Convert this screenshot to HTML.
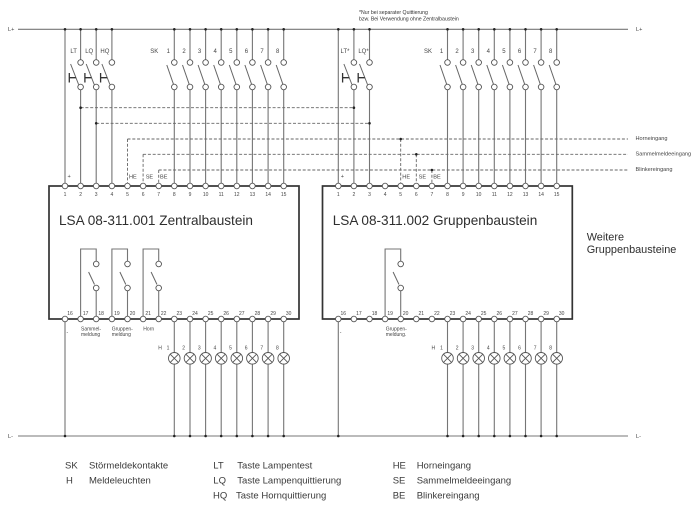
<!DOCTYPE html>
<html><head><meta charset="utf-8"><style>
html,body{margin:0;padding:0;background:#fff;}
svg{display:block;}
text{font-family:"Liberation Sans",Arial,sans-serif;fill:#333;}
.n{font-size:5px;text-anchor:middle;fill:#444;}
.l{font-size:6px;text-anchor:middle;fill:#444;}
.s{font-size:5.6px;fill:#444;}
.g{font-size:9.5px;fill:#3a3a3a;}
</style></head><body>
<svg width="700" height="511" viewBox="0 0 700 511" xmlns="http://www.w3.org/2000/svg">
<defs>
<g id="lamp"><circle cx="0" cy="0" r="5.8" fill="#fff" stroke="#555" stroke-width="0.9"/><path d="M-4.1 -4.1L4.1 4.1M-4.1 4.1L4.1 -4.1" stroke="#555" stroke-width="0.9"/></g>
<circle id="t" cx="0" cy="0" r="2.8" fill="#fff" stroke="#555" stroke-width="0.9"/>
</defs>

<!-- rails -->
<path d="M18 29.3H628M18 436H628" stroke="#777" stroke-width="1.1" fill="none"/>
<text x="8" y="31" class="s">L+</text>
<text x="636" y="31" class="s">L+</text>
<text x="8" y="438" class="s">L-</text>
<text x="636" y="438" class="s">L-</text>

<!-- solid wires -->
<path stroke="#757575" stroke-width="1.1" fill="none" d="
M65 29.3V183.2
M80.6 29.3V59.7M80.6 89.8V183.2
M96.2 29.3V59.7M96.2 89.8V183.2
M111.9 29.3V59.7M111.9 89.8V183.2
M174.3 29.3V59.7M174.3 89.8V183.2
M190 29.3V59.7M190 89.8V183.2
M205.6 29.3V59.7M205.6 89.8V183.2
M221.2 29.3V59.7M221.2 89.8V183.2
M236.8 29.3V59.7M236.8 89.8V183.2
M252.4 29.3V59.7M252.4 89.8V183.2
M268.1 29.3V59.7M268.1 89.8V183.2
M283.7 29.3V59.7M283.7 89.8V183.2
M338.3 29.3V183.2
M353.9 29.3V59.7M353.9 89.8V183.2
M369.5 29.3V59.7M369.5 89.8V183.2
M447.5 29.3V59.7M447.5 89.8V183.2
M463.1 29.3V59.7M463.1 89.8V183.2
M478.7 29.3V59.7M478.7 89.8V183.2
M494.3 29.3V59.7M494.3 89.8V183.2
M509.9 29.3V59.7M509.9 89.8V183.2
M525.5 29.3V59.7M525.5 89.8V183.2
M541.1 29.3V59.7M541.1 89.8V183.2
M556.7 29.3V59.7M556.7 89.8V183.2
M65 321.8V436
M174.3 321.8V436M190 321.8V436M205.6 321.8V436M221.2 321.8V436M236.8 321.8V436M252.4 321.8V436M268.1 321.8V436M283.7 321.8V436
M338.3 321.8V436
M447.5 321.8V436M463.1 321.8V436M478.7 321.8V436M494.3 321.8V436M509.9 321.8V436M525.5 321.8V436M541.1 321.8V436M556.7 321.8V436
"/>

<!-- SK switch blades -->
<path stroke="#666" stroke-width="1" fill="none" d="
M166.8 65L173.5 84.3M182.5 65L189.2 84.3M198.1 65L204.8 84.3M213.7 65L220.4 84.3M229.3 65L236 84.3M244.9 65L251.6 84.3M260.6 65L267.3 84.3M276.2 65L282.9 84.3
M440 65L446.7 84.3M455.6 65L462.3 84.3M471.2 65L477.9 84.3M486.8 65L493.5 84.3M502.4 65L509.1 84.3M518 65L524.7 84.3M533.6 65L540.3 84.3M549.2 65L555.9 84.3
M70.6 64L78.6 84.5M86.2 64L94.2 84.5M101.9 64L109.9 84.5
M343.9 64L351.9 84.5M359.5 64L367.5 84.5
"/>
<!-- pushbutton actuators -->
<path stroke="#333" stroke-width="1.3" fill="none" d="
M69.3 73V82.5M69.3 77.7H75.9
M84.9 73V82.5M84.9 77.7H91.5
M100.6 73V82.5M100.6 77.7H107.2
M342.6 73V82.5M342.6 77.7H349.2
M358.2 73V82.5M358.2 77.7H364.8
"/>

<!-- dashed lines -->
<path stroke="#666" stroke-width="0.9" fill="none" stroke-dasharray="3,1.8" d="
M80.6 107.7H353.9
M96.2 123.3H369.5
M127.5 139H628
M143.1 154.3H628
M158.7 170H628
M127.5 139V183.2M143.1 154.3V183.2M158.7 170V183.2
M400.7 139V183.2M416.3 154.3V183.2M431.9 170V183.2
"/>

<!-- relay contacts -->
<path stroke="#757575" stroke-width="1.1" fill="none" d="
M80.6 316.2V249H96.2V261.2M96.2 290.8V316.2
M111.9 316.2V249H127.5V261.2M127.5 290.8V316.2
M143.1 316.2V249H158.7V261.2M158.7 290.8V316.2
M385.1 316.2V249H400.7V261.2M400.7 290.8V316.2
"/>
<path stroke="#666" stroke-width="1" fill="none" d="M88.6 272L94.5 284.5M119.9 272L125.8 284.5M151.1 272L157 284.5M393.1 272L399 284.5"/>

<!-- module boxes -->
<rect x="49" y="186" width="250" height="133" fill="none" stroke="#333" stroke-width="1.7"/>
<rect x="322.5" y="186" width="249.8" height="133" fill="none" stroke="#333" stroke-width="1.7"/>

<!-- dots -->
<g fill="#222">
<circle cx="65" cy="29.3" r="1.3"/><circle cx="80.6" cy="29.3" r="1.3"/><circle cx="96.2" cy="29.3" r="1.3"/><circle cx="111.9" cy="29.3" r="1.3"/>
<circle cx="174.3" cy="29.3" r="1.3"/><circle cx="190" cy="29.3" r="1.3"/><circle cx="205.6" cy="29.3" r="1.3"/><circle cx="221.2" cy="29.3" r="1.3"/><circle cx="236.8" cy="29.3" r="1.3"/><circle cx="252.4" cy="29.3" r="1.3"/><circle cx="268.1" cy="29.3" r="1.3"/><circle cx="283.7" cy="29.3" r="1.3"/>
<circle cx="338.3" cy="29.3" r="1.3"/><circle cx="353.9" cy="29.3" r="1.3"/><circle cx="369.5" cy="29.3" r="1.3"/>
<circle cx="447.5" cy="29.3" r="1.3"/><circle cx="463.1" cy="29.3" r="1.3"/><circle cx="478.7" cy="29.3" r="1.3"/><circle cx="494.3" cy="29.3" r="1.3"/><circle cx="509.9" cy="29.3" r="1.3"/><circle cx="525.5" cy="29.3" r="1.3"/><circle cx="541.1" cy="29.3" r="1.3"/><circle cx="556.7" cy="29.3" r="1.3"/>
<circle cx="80.6" cy="107.7" r="1.3"/><circle cx="353.9" cy="107.7" r="1.3"/><circle cx="96.2" cy="123.3" r="1.3"/><circle cx="369.5" cy="123.3" r="1.3"/>
<circle cx="400.7" cy="139" r="1.3"/><circle cx="416.3" cy="154.3" r="1.3"/><circle cx="431.9" cy="170" r="1.3"/>
<circle cx="65" cy="436" r="1.3"/><circle cx="174.3" cy="436" r="1.3"/><circle cx="190" cy="436" r="1.3"/><circle cx="205.6" cy="436" r="1.3"/><circle cx="221.2" cy="436" r="1.3"/><circle cx="236.8" cy="436" r="1.3"/><circle cx="252.4" cy="436" r="1.3"/><circle cx="268.1" cy="436" r="1.3"/><circle cx="283.7" cy="436" r="1.3"/>
<circle cx="338.3" cy="436" r="1.3"/><circle cx="447.5" cy="436" r="1.3"/><circle cx="463.1" cy="436" r="1.3"/><circle cx="478.7" cy="436" r="1.3"/><circle cx="494.3" cy="436" r="1.3"/><circle cx="509.9" cy="436" r="1.3"/><circle cx="525.5" cy="436" r="1.3"/><circle cx="541.1" cy="436" r="1.3"/><circle cx="556.7" cy="436" r="1.3"/>
</g>

<!-- switch contact circles -->
<g>
<use href="#t" x="80.6" y="62.5"/><use href="#t" x="80.6" y="87"/>
<use href="#t" x="96.2" y="62.5"/><use href="#t" x="96.2" y="87"/>
<use href="#t" x="111.9" y="62.5"/><use href="#t" x="111.9" y="87"/>
<use href="#t" x="174.3" y="62.5"/><use href="#t" x="174.3" y="87"/>
<use href="#t" x="190" y="62.5"/><use href="#t" x="190" y="87"/>
<use href="#t" x="205.6" y="62.5"/><use href="#t" x="205.6" y="87"/>
<use href="#t" x="221.2" y="62.5"/><use href="#t" x="221.2" y="87"/>
<use href="#t" x="236.8" y="62.5"/><use href="#t" x="236.8" y="87"/>
<use href="#t" x="252.4" y="62.5"/><use href="#t" x="252.4" y="87"/>
<use href="#t" x="268.1" y="62.5"/><use href="#t" x="268.1" y="87"/>
<use href="#t" x="283.7" y="62.5"/><use href="#t" x="283.7" y="87"/>
<use href="#t" x="353.9" y="62.5"/><use href="#t" x="353.9" y="87"/>
<use href="#t" x="369.5" y="62.5"/><use href="#t" x="369.5" y="87"/>
<use href="#t" x="447.5" y="62.5"/><use href="#t" x="447.5" y="87"/>
<use href="#t" x="463.1" y="62.5"/><use href="#t" x="463.1" y="87"/>
<use href="#t" x="478.7" y="62.5"/><use href="#t" x="478.7" y="87"/>
<use href="#t" x="494.3" y="62.5"/><use href="#t" x="494.3" y="87"/>
<use href="#t" x="509.9" y="62.5"/><use href="#t" x="509.9" y="87"/>
<use href="#t" x="525.5" y="62.5"/><use href="#t" x="525.5" y="87"/>
<use href="#t" x="541.1" y="62.5"/><use href="#t" x="541.1" y="87"/>
<use href="#t" x="556.7" y="62.5"/><use href="#t" x="556.7" y="87"/>
<!-- relay circles -->
<use href="#t" x="96.2" y="264"/><use href="#t" x="96.2" y="288"/>
<use href="#t" x="127.5" y="264"/><use href="#t" x="127.5" y="288"/>
<use href="#t" x="158.7" y="264"/><use href="#t" x="158.7" y="288"/>
<use href="#t" x="400.7" y="264"/><use href="#t" x="400.7" y="288"/>
</g>

<!-- terminals -->
<g>
<use href="#t" x="65" y="186"/><use href="#t" x="80.6" y="186"/><use href="#t" x="96.2" y="186"/><use href="#t" x="111.9" y="186"/><use href="#t" x="127.5" y="186"/><use href="#t" x="143.1" y="186"/><use href="#t" x="158.7" y="186"/><use href="#t" x="174.3" y="186"/><use href="#t" x="190" y="186"/><use href="#t" x="205.6" y="186"/><use href="#t" x="221.2" y="186"/><use href="#t" x="236.8" y="186"/><use href="#t" x="252.4" y="186"/><use href="#t" x="268.1" y="186"/><use href="#t" x="283.7" y="186"/>
<use href="#t" x="65" y="319"/><use href="#t" x="80.6" y="319"/><use href="#t" x="96.2" y="319"/><use href="#t" x="111.9" y="319"/><use href="#t" x="127.5" y="319"/><use href="#t" x="143.1" y="319"/><use href="#t" x="158.7" y="319"/><use href="#t" x="174.3" y="319"/><use href="#t" x="190" y="319"/><use href="#t" x="205.6" y="319"/><use href="#t" x="221.2" y="319"/><use href="#t" x="236.8" y="319"/><use href="#t" x="252.4" y="319"/><use href="#t" x="268.1" y="319"/><use href="#t" x="283.7" y="319"/>
<use href="#t" x="338.3" y="186"/><use href="#t" x="353.9" y="186"/><use href="#t" x="369.5" y="186"/><use href="#t" x="385.1" y="186"/><use href="#t" x="400.7" y="186"/><use href="#t" x="416.3" y="186"/><use href="#t" x="431.9" y="186"/><use href="#t" x="447.5" y="186"/><use href="#t" x="463.1" y="186"/><use href="#t" x="478.7" y="186"/><use href="#t" x="494.3" y="186"/><use href="#t" x="509.9" y="186"/><use href="#t" x="525.5" y="186"/><use href="#t" x="541.1" y="186"/><use href="#t" x="556.7" y="186"/>
<use href="#t" x="338.3" y="319"/><use href="#t" x="353.9" y="319"/><use href="#t" x="369.5" y="319"/><use href="#t" x="385.1" y="319"/><use href="#t" x="400.7" y="319"/><use href="#t" x="416.3" y="319"/><use href="#t" x="431.9" y="319"/><use href="#t" x="447.5" y="319"/><use href="#t" x="463.1" y="319"/><use href="#t" x="478.7" y="319"/><use href="#t" x="494.3" y="319"/><use href="#t" x="509.9" y="319"/><use href="#t" x="525.5" y="319"/><use href="#t" x="541.1" y="319"/><use href="#t" x="556.7" y="319"/>
</g>

<!-- lamps -->
<g>
<use href="#lamp" x="174.3" y="358.3"/><use href="#lamp" x="190" y="358.3"/><use href="#lamp" x="205.6" y="358.3"/><use href="#lamp" x="221.2" y="358.3"/><use href="#lamp" x="236.8" y="358.3"/><use href="#lamp" x="252.4" y="358.3"/><use href="#lamp" x="268.1" y="358.3"/><use href="#lamp" x="283.7" y="358.3"/>
<use href="#lamp" x="447.5" y="358.3"/><use href="#lamp" x="463.1" y="358.3"/><use href="#lamp" x="478.7" y="358.3"/><use href="#lamp" x="494.3" y="358.3"/><use href="#lamp" x="509.9" y="358.3"/><use href="#lamp" x="525.5" y="358.3"/><use href="#lamp" x="541.1" y="358.3"/><use href="#lamp" x="556.7" y="358.3"/>
</g>

<!-- footnote -->
<text x="359" y="14" style="font-size:5.2px">*Nur bei separater Quittierung</text>
<text x="359" y="20.3" style="font-size:5.2px">bzw. Bei Verwendung ohne Zentralbaustein</text>

<!-- switch labels -->
<text class="l" x="73.6" y="53">LT</text>
<text class="l" x="89.2" y="53">LQ</text>
<text class="l" x="104.9" y="53">HQ</text>
<text class="l" x="154.3" y="53">SK</text>
<text class="l" x="168.3" y="53">1</text><text class="l" x="184" y="53">2</text><text class="l" x="199.6" y="53">3</text><text class="l" x="215.2" y="53">4</text><text class="l" x="230.8" y="53">5</text><text class="l" x="246.4" y="53">6</text><text class="l" x="262.1" y="53">7</text><text class="l" x="277.7" y="53">8</text>
<text class="l" x="345" y="53">LT*</text>
<text class="l" x="363.5" y="53">LQ*</text>
<text class="l" x="428" y="53">SK</text>
<text class="l" x="441.5" y="53">1</text><text class="l" x="457.1" y="53">2</text><text class="l" x="472.7" y="53">3</text><text class="l" x="488.3" y="53">4</text><text class="l" x="503.9" y="53">5</text><text class="l" x="519.5" y="53">6</text><text class="l" x="535.1" y="53">7</text><text class="l" x="550.7" y="53">8</text>

<!-- right side labels -->
<text class="s" x="635.5" y="140">Horneingang</text>
<text class="s" x="635.5" y="155.5">Sammelmeldeeingang</text>
<text class="s" x="635.5" y="170.8">Blinkereingang</text>

<!-- terminal top labels -->
<text class="s" x="67.5" y="178">+</text>
<text class="s" x="129" y="178.5">HE</text>
<text class="s" x="145.7" y="178.5">SE</text>
<text class="s" x="160" y="178.5">BE</text>
<text class="s" x="340.8" y="178">+</text>
<text class="s" x="402.3" y="178.5">HE</text>
<text class="s" x="418.6" y="178.5">SE</text>
<text class="s" x="433.3" y="178.5">BE</text>

<!-- top terminal numbers -->
<g class="n">
<text class="n" x="65" y="195.8">1</text><text class="n" x="80.6" y="195.8">2</text><text class="n" x="96.2" y="195.8">3</text><text class="n" x="111.9" y="195.8">4</text><text class="n" x="127.5" y="195.8">5</text><text class="n" x="143.1" y="195.8">6</text><text class="n" x="158.7" y="195.8">7</text><text class="n" x="174.3" y="195.8">8</text><text class="n" x="190" y="195.8">9</text><text class="n" x="205.6" y="195.8">10</text><text class="n" x="221.2" y="195.8">11</text><text class="n" x="236.8" y="195.8">12</text><text class="n" x="252.4" y="195.8">13</text><text class="n" x="268.1" y="195.8">14</text><text class="n" x="283.7" y="195.8">15</text>
<text class="n" x="338.3" y="195.8">1</text><text class="n" x="353.9" y="195.8">2</text><text class="n" x="369.5" y="195.8">3</text><text class="n" x="385.1" y="195.8">4</text><text class="n" x="400.7" y="195.8">5</text><text class="n" x="416.3" y="195.8">6</text><text class="n" x="431.9" y="195.8">7</text><text class="n" x="447.5" y="195.8">8</text><text class="n" x="463.1" y="195.8">9</text><text class="n" x="478.7" y="195.8">10</text><text class="n" x="494.3" y="195.8">11</text><text class="n" x="509.9" y="195.8">12</text><text class="n" x="525.5" y="195.8">13</text><text class="n" x="541.1" y="195.8">14</text><text class="n" x="556.7" y="195.8">15</text>
<!-- bottom terminal numbers -->
<text class="n" x="70" y="315">16</text><text class="n" x="85.6" y="315">17</text><text class="n" x="101.2" y="315">18</text><text class="n" x="116.9" y="315">19</text><text class="n" x="132.5" y="315">20</text><text class="n" x="148.1" y="315">21</text><text class="n" x="163.7" y="315">22</text><text class="n" x="179.3" y="315">23</text><text class="n" x="195" y="315">24</text><text class="n" x="210.6" y="315">25</text><text class="n" x="226.2" y="315">26</text><text class="n" x="241.8" y="315">27</text><text class="n" x="257.4" y="315">28</text><text class="n" x="273.1" y="315">29</text><text class="n" x="288.7" y="315">30</text>
<text class="n" x="343.3" y="315">16</text><text class="n" x="358.9" y="315">17</text><text class="n" x="374.5" y="315">18</text><text class="n" x="390.1" y="315">19</text><text class="n" x="405.7" y="315">20</text><text class="n" x="421.3" y="315">21</text><text class="n" x="436.9" y="315">22</text><text class="n" x="452.5" y="315">23</text><text class="n" x="468.1" y="315">24</text><text class="n" x="483.7" y="315">25</text><text class="n" x="499.3" y="315">26</text><text class="n" x="514.9" y="315">27</text><text class="n" x="530.5" y="315">28</text><text class="n" x="546.1" y="315">29</text><text class="n" x="561.7" y="315">30</text>
<!-- lamp labels -->
<text class="n" x="160" y="349.5">H</text>
<text class="n" x="168" y="349.5">1</text><text class="n" x="183.7" y="349.5">2</text><text class="n" x="199.3" y="349.5">3</text><text class="n" x="214.9" y="349.5">4</text><text class="n" x="230.5" y="349.5">5</text><text class="n" x="246.1" y="349.5">6</text><text class="n" x="261.8" y="349.5">7</text><text class="n" x="277.4" y="349.5">8</text>
<text class="n" x="433.3" y="349.5">H</text>
<text class="n" x="441.5" y="349.5">1</text><text class="n" x="457.1" y="349.5">2</text><text class="n" x="472.7" y="349.5">3</text><text class="n" x="488.3" y="349.5">4</text><text class="n" x="503.9" y="349.5">5</text><text class="n" x="519.5" y="349.5">6</text><text class="n" x="535.1" y="349.5">7</text><text class="n" x="550.7" y="349.5">8</text>
</g>

<!-- relay labels -->
<text x="81" y="330.5" style="font-size:5px;fill:#444">Sammel-</text>
<text x="81" y="335.8" style="font-size:5px;fill:#444">meldung</text>
<text x="111.7" y="330.5" style="font-size:5px;fill:#444">Gruppen-</text>
<text x="111.7" y="335.8" style="font-size:5px;fill:#444">meldung</text>
<text x="143.3" y="330.5" style="font-size:5px;fill:#444">Horn</text>
<text x="385.7" y="330.5" style="font-size:5px;fill:#444">Gruppen-</text>
<text x="385.7" y="335.8" style="font-size:5px;fill:#444">meldung.</text>
<text x="66.5" y="334" style="font-size:5px;fill:#444">-</text>
<text x="339.8" y="334" style="font-size:5px;fill:#444">-</text>

<!-- titles -->
<text x="59" y="225" style="font-size:13.6px;fill:#2e2e2e">LSA 08-311.001 Zentralbaustein</text>
<text x="332.7" y="225" style="font-size:13.6px;fill:#2e2e2e">LSA 08-311.002 Gruppenbaustein</text>
<text x="586.7" y="240.7" style="font-size:10.9px;fill:#2e2e2e">Weitere</text>
<text x="586.7" y="253" style="font-size:10.9px;fill:#2e2e2e">Gruppenbausteine</text>

<!-- legend -->
<text class="g" x="65" y="468.3">SK</text><text class="g" x="89" y="468.3">Störmeldekontakte</text>
<text class="g" x="66" y="483.3">H</text><text class="g" x="89" y="483.3">Meldeleuchten</text>
<text class="g" x="213.3" y="468.3">LT</text><text class="g" x="237.3" y="468.3">Taste Lampentest</text>
<text class="g" x="213.3" y="483.3">LQ</text><text class="g" x="237.3" y="483.3">Taste Lampenquittierung</text>
<text class="g" x="213" y="498.3">HQ</text><text class="g" x="236" y="498.3">Taste Hornquittierung</text>
<text class="g" x="392.7" y="468.3">HE</text><text class="g" x="416.7" y="468.3">Horneingang</text>
<text class="g" x="392.7" y="483.3">SE</text><text class="g" x="416.7" y="483.3">Sammelmeldeeingang</text>
<text class="g" x="392.7" y="498.3">BE</text><text class="g" x="416.7" y="498.3">Blinkereingang</text>
</svg>
</body></html>
